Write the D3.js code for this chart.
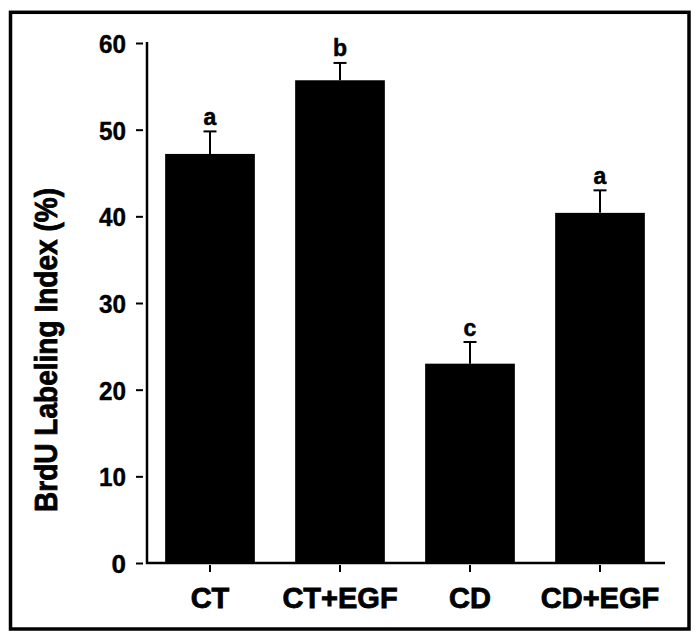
<!DOCTYPE html>
<html>
<head>
<meta charset="utf-8">
<script src="https://cdn.jsdelivr.net/npm/d3@7"></script>
<style>
  html, body { margin: 0; padding: 0; background: #fff; }
  svg { display: block; }
  text { font-family: "Liberation Sans", Arial, Helvetica, sans-serif; }
</style>
</head>
<body>
<svg id="chart" width="698" height="640"></svg>
<script>
const categories = ["CT", "CT+EGF", "CD", "CD+EGF"];
const means = [47.2, 55.7, 23.0, 40.4];
const errors = [2.6, 2.0, 2.5, 2.6];
const letters = ["a", "b", "c", "a"];
const yTicks = [0, 10, 20, 30, 40, 50, 60];
const yLabel = "BrdU Labeling Index (%)";

const data = categories.map((c, i) => ({ cat: c, mean: means[i], err: errors[i], letter: letters[i] }));

const svg = d3.select("#chart");

// outer frame
svg.append("rect")
  .attr("x", 10.5).attr("y", 12.3)
  .attr("width", 678.5).attr("height", 616.7)
  .attr("fill", "none").attr("stroke", "#000").attr("stroke-width", 3.5);

const axisX = 147, axisY = 563;
const y = d3.scaleLinear().domain([0, 60]).range([563, 43]);
const x = d3.scaleBand().domain(categories).range([145, 665])
  .paddingInner(0.31).paddingOuter(0.155);

// bars
svg.append("g").selectAll("rect").data(data).join("rect")
  .attr("x", d => x(d.cat))
  .attr("y", d => y(d.mean))
  .attr("width", x.bandwidth())
  .attr("height", d => y(0) - y(d.mean))
  .attr("fill", "#000");

// error bars (upper)
const eb = svg.append("g").attr("stroke", "#000").attr("stroke-width", 2);
eb.selectAll("line.v").data(data).join("line").attr("class", "v")
  .attr("x1", d => x(d.cat) + x.bandwidth() / 2)
  .attr("x2", d => x(d.cat) + x.bandwidth() / 2)
  .attr("y1", d => y(d.mean))
  .attr("y2", d => y(d.mean + d.err));
eb.selectAll("line.c").data(data).join("line").attr("class", "c")
  .attr("x1", d => x(d.cat) + x.bandwidth() / 2 - 6.5)
  .attr("x2", d => x(d.cat) + x.bandwidth() / 2 + 6.5)
  .attr("y1", d => y(d.mean + d.err))
  .attr("y2", d => y(d.mean + d.err));

// significance letters
svg.append("g").selectAll("text").data(data).join("text")
  .attr("x", d => x(d.cat) + x.bandwidth() / 2)
  .attr("y", d => y(d.mean + d.err) - 6.5)
  .attr("text-anchor", "middle")
  .attr("font-size", 23).attr("font-weight", "bold")
  .attr("stroke", "#000").attr("stroke-width", 0.5)
  .text(d => d.letter);

// y axis
const yAxis = d3.axisLeft(y).tickValues(yTicks).tickSizeOuter(0).tickSizeInner(0).tickPadding(0);
const gy = svg.append("g").attr("transform", `translate(${axisX},0)`).call(yAxis);
gy.select(".domain").remove();
gy.selectAll(".tick line").attr("x1", -11).attr("x2", -4).attr("stroke", "#000").attr("stroke-width", 2);
gy.selectAll(".tick text")
  .attr("x", -21).attr("dy", "0.36em")
  .attr("font-size", 26).attr("font-weight", "bold")
  .attr("font-family", "'Liberation Sans', Arial, sans-serif")
  .attr("fill", "#000")
  .attr("stroke", "#000").attr("stroke-width", 0.4)
  .each(function(d) { if (d >= 10) d3.select(this).attr("textLength", 27).attr("lengthAdjust", "spacingAndGlyphs"); });
svg.append("line")
  .attr("x1", axisX).attr("x2", axisX)
  .attr("y1", y(60) - 1).attr("y2", axisY + 1)
  .attr("stroke", "#000").attr("stroke-width", 2.5);

// x axis
const xAxis = d3.axisBottom(x).tickSizeOuter(0).tickSizeInner(0).tickPadding(0);
const gx = svg.append("g").attr("transform", `translate(0,${axisY})`).call(xAxis);
gx.select(".domain").remove();
gx.selectAll(".tick line").attr("y1", 2).attr("y2", 9).attr("stroke", "#000").attr("stroke-width", 2);
gx.selectAll(".tick text")
  .attr("y", 45).attr("dy", 0)
  .attr("font-size", 29).attr("font-weight", "bold")
  .attr("font-family", "'Liberation Sans', Arial, sans-serif")
  .attr("fill", "#000")
  .attr("stroke", "#000").attr("stroke-width", 0.8);
svg.append("line")
  .attr("x1", axisX - 1).attr("x2", 665)
  .attr("y1", axisY).attr("y2", axisY)
  .attr("stroke", "#000").attr("stroke-width", 2.5);

// y label
svg.append("text")
  .attr("transform", "translate(57,350) rotate(-90)")
  .attr("text-anchor", "middle")
  .attr("font-size", 31).attr("font-weight", "bold")
  .attr("stroke", "#000").attr("stroke-width", 0.8)
  .attr("textLength", 324).attr("lengthAdjust", "spacingAndGlyphs")
  .text(yLabel);
</script>
</body>
</html>
